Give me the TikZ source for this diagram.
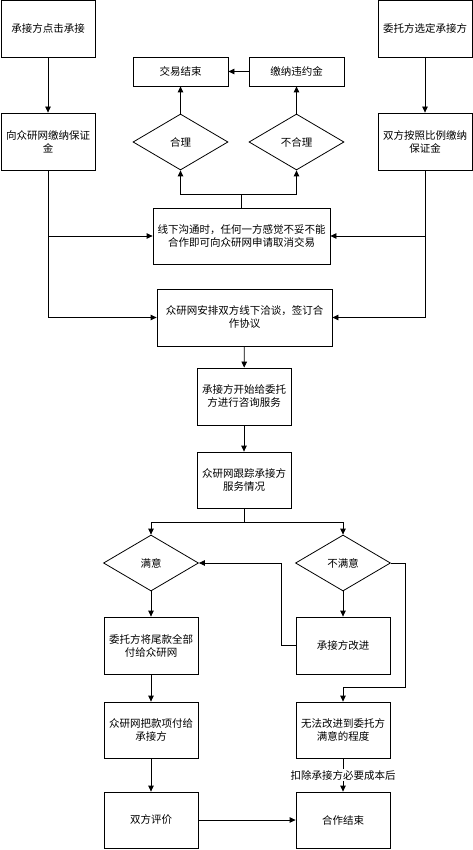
\documentclass[tikz,border=0pt]{standalone}
\usepackage{fontspec}
\setmainfont{Noto Sans CJK SC}
\usepackage{tikz}
\usetikzlibrary{arrows, arrows.meta, shapes.geometric}
\tikzset{
  box/.style={rectangle, draw, line width=0.8pt, align=center, minimum width=94pt, minimum height=57pt, inner sep=1pt},
  choice/.style={diamond, draw, line width=0.8pt, minimum width=95pt, minimum height=56pt, inner sep=0pt},
  arr/.style={line width=0.8pt, -{Triangle[length=6pt, width=5.5pt]}},
  link/.style={line width=0.8pt}
}

\begin{document}
\begin{tikzpicture}[x=1pt, y=-1pt, every node/.style={font=\fontsize{10.5}{13}\selectfont}]
\useasboundingbox (0,0) rectangle (473,850);

\node[box] (accept) at (48,28.5) {承接方点击承接};
\node[box] (deposit) at (48,141.5) {向众研网缴纳保证\\金};
\node[box] (choose) at (425,28.5) {委托方选定承接方};
\node[box] (bothdep) at (425,141.5) {双方按照比例缴纳\\保证金};

\node[box, minimum width=95pt, minimum height=29pt] (ended) at (180.5,71.5) {交易结束};
\node[box, minimum width=95pt, minimum height=29pt] (penalty) at (296.5,71.5) {缴纳违约金};
\node[choice] (fair) at (180.5,142) {合理};
\node[choice] (unfair) at (296.5,142) {不合理};

\node[box, minimum width=177pt, minimum height=56pt] (cancel) at (241.5,236) {线下沟通时，任何一方感觉不妥不能\\合作即可向众研网申请取消交易};
\node[box, minimum width=175pt] (arrange) at (244.5,317.5) {众研网安排双方线下洽谈，签订合\\作协议};
\node[box] (serve) at (244,396.5) {承接方开始给委托\\方进行咨询服务};
\node[box, minimum height=56pt] (track) at (244,480) {众研网跟踪承接方\\服务情况};

\node[choice] (happy) at (151,563) {满意};
\node[choice] (unhappy) at (343,563) {不满意};
\node[box] (pay) at (151,645.5) {委托方将尾款全部\\付给众研网};
\node[box] (improve) at (343,645.5) {承接方改进};
\node[box, minimum height=56pt] (transfer) at (151,730) {众研网把款项付给\\承接方};
\node[box, minimum height=56pt] (fail) at (343,730) {无法改进到委托方\\满意的程度};
\node[box, minimum height=56pt] (review) at (151,820) {双方评价};
\node[box, minimum height=56pt] (finish) at (343,820) {合作结束};

\coordinate (fork) at (241.5,194);
\coordinate (split) at (244,522);

\draw[arr] (accept) -- (deposit);
\draw[arr] (choose) -- (bothdep);
\draw[arr] (deposit) |- (arrange);
\draw[arr] (bothdep) |- (arrange);
\draw[arr] (deposit.south |- cancel.west) -- (cancel.west);
\draw[arr] (bothdep.south |- cancel.east) -- (cancel.east);

\draw[link] (cancel) -- (fork);
\draw[arr] (fork) -| (fair);
\draw[arr] (fork) -| (unfair);
\draw[arr] (fair) -- (ended);
\draw[arr] (unfair) -- (penalty);
\draw[arr] (penalty) -- (ended);

\draw[arr] (arrange) -- (serve);
\draw[arr] (serve) -- (track);
\draw[link] (track) -- (split);
\draw[arr] (split) -| (happy);
\draw[arr] (split) -| (unhappy);

\draw[arr] (happy) -- (pay);
\draw[arr] (pay) -- (transfer);
\draw[arr] (transfer) -- (review);
\draw[arr] (review) -- (finish);
\draw[arr] (unhappy) -- (improve);
\draw[arr] (improve.west) -- ++(-14,0) |- (happy.east);
\draw[arr] (unhappy.east) -- ++(14,0) -- ++(0,124) -| (fail.north);
\draw[arr] (fail) -- node[fill=white, inner sep=1pt] {扣除承接方必要成本后} (finish);

\end{tikzpicture}
\end{document}
